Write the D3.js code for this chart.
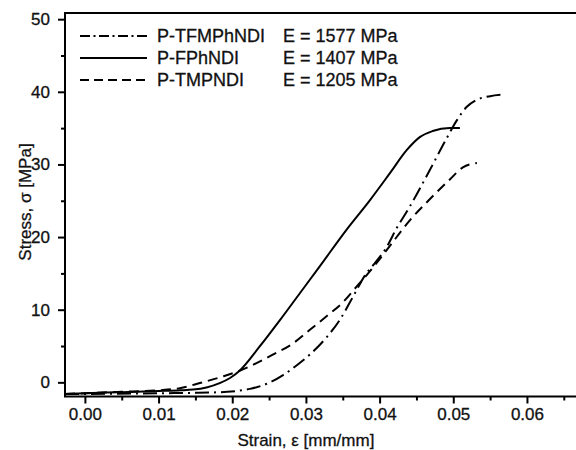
<!DOCTYPE html>
<html>
<head>
<meta charset="utf-8">
<script src="https://cdn.jsdelivr.net/npm/d3@7"></script>
<style>
  body { margin: 0; background: #fff; }
  svg { display: block; font-family: "Liberation Sans", Arial, sans-serif; }
  svg text { stroke: #111; stroke-width: 0.3px; }
</style>
</head>
<body>
<div id="chart"></div>
<script>
// series (strain in mm/mm, stress in MPa)
const seriesNames = ["P-TFMPhNDI", "P-FPhNDI", "P-TMPNDI"];
const moduli = ["E = 1577 MPa", "E = 1407 MPa", "E = 1205 MPa"];

const tfmphStrain = [-0.0027, 0, 0.01, 0.015, 0.0193, 0.0224, 0.0247, 0.0269, 0.0292, 0.0305, 0.0328, 0.0346, 0.0364, 0.0382, 0.0391, 0.041, 0.0423, 0.0441, 0.0468, 0.0491, 0.0505, 0.0518, 0.0532, 0.055, 0.0566];
const tfmphStress = [-1.6, -1.6, -1.5, -1.45, -1.3, -0.9, -0.2, 1.0, 2.7, 3.8, 6.2, 8.6, 11.8, 15.0, 16.1, 18.7, 21.2, 24.2, 29.2, 33.6, 36.1, 37.9, 38.9, 39.4, 39.6];

const fphStrain = [-0.0027, 0, 0.005, 0.01, 0.013, 0.0147, 0.0165, 0.0183, 0.0197, 0.021, 0.0237, 0.0265, 0.0292, 0.0319, 0.0355, 0.0387, 0.0414, 0.0437, 0.0455, 0.0472, 0.0495, 0.0509];
const fphStress = [-1.6, -1.5, -1.35, -1.2, -1.1, -1.0, -0.7, -0.1, 0.6, 1.6, 4.9, 8.6, 12.3, 16.0, 21.0, 25.1, 28.8, 32.0, 33.8, 34.6, 35.0, 35.0];

const tmpStrain = [-0.0027, 0, 0.005, 0.01, 0.0129, 0.0156, 0.0187, 0.021, 0.0228, 0.0255, 0.0283, 0.0305, 0.0328, 0.035, 0.0369, 0.0391, 0.0414, 0.0441, 0.0468, 0.0495, 0.0513, 0.0532];
const tmpStress = [-1.6, -1.5, -1.3, -1.1, -0.8, -0.1, 0.8, 1.6, 2.4, 3.8, 5.4, 7.2, 9.1, 11.0, 13.2, 15.8, 18.8, 22.3, 25.2, 27.9, 29.6, 30.2];

const xMajor = [0, 0.01, 0.02, 0.03, 0.04, 0.05, 0.06];
const xMinor = [0.005, 0.015, 0.025, 0.035, 0.045, 0.055, 0.065];
const yMajor = [0, 10, 20, 30, 40, 50];
const yMinor = [5, 15, 25, 35, 45];

function init() {
    const w = 576;
    const h = 450;
    const left = 65, right = 580, top = 13, bottom = 396.5;
    const dashes = ["14,5,2,5", null, "10,6"]; // dash-dot, solid, dashed

    const series = [
        tfmphStrain.map((x, i) => ({ x: x, y: tfmphStress[i] })),
        fphStrain.map((x, i) => ({ x: x, y: fphStress[i] })),
        tmpStrain.map((x, i) => ({ x: x, y: tmpStress[i] }))
    ];

    const xScale = d3.scaleLinear().domain([-0.0027, 0.0672]).range([left, right]);
    const yScale = d3.scaleLinear().domain([-1.95, 50.85]).range([bottom, top]);

    const svg = d3.select("#chart").append("svg")
        .attr("width", w)
        .attr("height", h);

    // x axis: major + minor ticks
    svg.append("g")
        .attr("transform", `translate(0,${bottom})`)
        .call(d3.axisBottom(xScale).tickValues(xMajor).tickSize(7).tickPadding(4).tickFormat(d3.format(".2f")));
    svg.append("g")
        .attr("transform", `translate(0,${bottom})`)
        .call(d3.axisBottom(xScale).tickValues(xMinor).tickSize(4).tickFormat(""));

    // y axis
    svg.append("g")
        .attr("transform", `translate(${left},0)`)
        .call(d3.axisLeft(yScale).tickValues(yMajor).tickSize(7).tickPadding(8));
    svg.append("g")
        .attr("transform", `translate(${left},0)`)
        .call(d3.axisLeft(yScale).tickValues(yMinor).tickSize(4).tickFormat(""));

    svg.selectAll(".domain").remove();
    svg.selectAll(".tick line").attr("stroke", "#000").attr("stroke-width", 2);
    svg.selectAll(".tick text")
        .attr("fill", "#111")
        .style("font-size", "17px")
        .style("font-family", "'Liberation Sans', Arial, sans-serif");

    // frame (left, bottom, top)
    svg.append("path")
        .attr("d", `M${right},${top}H${left}V${bottom}H${right}`)
        .attr("fill", "none")
        .attr("stroke", "#000")
        .attr("stroke-width", 2);

    // curves
    const line = d3.line()
        .x(d => xScale(d.x))
        .y(d => yScale(d.y))
        .curve(d3.curveMonotoneX);

    svg.selectAll("path.curve")
        .data(series)
        .enter()
        .append("path")
        .attr("class", "curve")
        .attr("d", line)
        .attr("fill", "none")
        .attr("stroke", "#000")
        .attr("stroke-width", 2)
        .attr("stroke-dasharray", (d, i) => dashes[i]);

    // legend
    const legendDash = ["10,3.5,2,3.5", null, "9,5"];
    const legend = svg.append("g");
    seriesNames.forEach((name, i) => {
        const y = 36 + i * 22;
        legend.append("line")
            .attr("x1", 80).attr("x2", 147)
            .attr("y1", y).attr("y2", y)
            .attr("stroke", "#000")
            .attr("stroke-width", 2)
            .attr("stroke-dasharray", legendDash[i]);
        legend.append("text")
            .attr("x", 157).attr("y", y)
            .attr("dy", "0.36em")
            .attr("font-size", "18px")
            .attr("fill", "#111")
            .text(name);
        legend.append("text")
            .attr("x", 283).attr("y", y)
            .attr("dy", "0.36em")
            .attr("font-size", "18px")
            .attr("fill", "#111")
            .text(moduli[i]);
    });

    // axis titles
    svg.append("text")
        .attr("x", xScale(0.03))
        .attr("y", 446)
        .attr("text-anchor", "middle")
        .attr("font-size", "17px")
        .attr("fill", "#111")
        .text("Strain, ε [mm/mm]");

    svg.append("text")
        .attr("transform", "translate(31,202) rotate(-90)")
        .attr("text-anchor", "middle")
        .attr("font-size", "17px")
        .attr("fill", "#111")
        .text("Stress, σ [MPa]");
}

window.onload = init;
</script>
</body>
</html>
